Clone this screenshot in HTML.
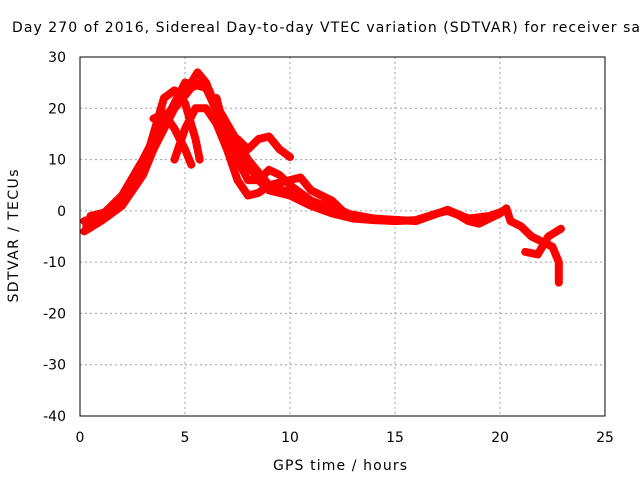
<!DOCTYPE html>
<html><head><meta charset="utf-8"><style>
body{margin:0;background:#fff;width:640px;height:480px;overflow:hidden}
svg text{font-family:"DejaVu Sans","Liberation Sans",sans-serif;font-size:14px;fill:#000}
</style></head><body>
<svg id="chart" width="640" height="480" xmlns="http://www.w3.org/2000/svg">
<text x="12" y="32" textLength="628" lengthAdjust="spacing">Day 270 of 2016, Sidereal Day-to-day VTEC variation (SDTVAR) for receiver sa</text>
<g id="grid"></g>
<g id="ticks"></g>
<g id="series"></g>
<rect x="80" y="57" width="525" height="359" fill="none" stroke="#000" stroke-width="1"/>
<text x="340" y="470" text-anchor="middle" textLength="134">GPS time / hours</text>
<text transform="translate(18,236) rotate(-90)" text-anchor="middle" textLength="133">SDTVAR / TECUs</text>
</svg>
<script>
const xTicks=[0,5,10,15,20,25];
const yTicks=[-40,-30,-20,-10,0,10,20,30];
const s1=[[0.2,-2],[1,-1],[2,3],[3,10],[4,18],[5,23],[5.6,27],[6,25],[6.5,20],[7,15],[7.5,12],[8,9],[8.5,6],[9,4],[10,3],[11,1],[12,-0.5],[13,-1.5],[14,-1.8],[15,-2],[16,-1.8],[17,-0.5],[17.5,0],[18,-0.8],[18.5,-2],[19,-2.5],[19.5,-1.5],[20,-0.5],[20.3,0.5],[20.5,-2],[21,-3],[21.5,-5],[22,-6],[22.5,-7],[22.8,-10],[22.8,-14]];
const s2=[[0.3,-3],[1,-1.5],[2,2],[3,8],[3.5,15],[4,22],[4.5,23.5],[5,21],[5.5,14],[5.7,10]];
const s2b=[[3.5,18],[4,19],[4.5,16],[5,12],[5.3,9]];
const s3=[[4.5,10],[5,16],[5.5,20],[6,20],[6.5,17],[7,12],[7.5,6],[8,3],[8.5,3.5],[9,5],[10,6],[10.5,6.5],[11,4],[12,2],[12.5,0],[13,-1]];
const s4=[[0.2,-4],[1,-2],[2,1],[3,7],[4,17],[5,25],[6,24],[7,15],[7.5,14],[8,12],[8.5,14],[9,14.5],[9.5,12],[10,10.5]];
const s5=[[6.5,22],[7,14],[7.5,10],[8,6],[8.5,6],[9,8],[9.5,7],[10,5],[11,2],[12,0.5],[13,-1]];
const s6=[[21.2,-8],[21.8,-8.5],[22.3,-5],[22.7,-4],[22.9,-3.5]];
const s7=[[0.5,-1],[1.5,0],[2.5,4],[3.5,12],[4.5,20],[5.3,24],[5.8,25],[6.3,22],[7,17],[8,10],[9,5],[10,3.5],[11,2],[12,0],[14,-1.5],[16,-2],[17.5,0.2],[18.5,-1.5],[19.5,-1],[20.2,0]];
const allSeries=[s1,s2,s2b,s3,s4,s5,s6,s7];
const X=v=>80+v*21, Y=v=>57+(30-v)*5.1286;
const NS="http://www.w3.org/2000/svg";
const grid=document.getElementById('grid'),ticks=document.getElementById('ticks'),ser=document.getElementById('series');
function mk(tag,attrs,parent){const e=document.createElementNS(NS,tag);for(const k in attrs)e.setAttribute(k,attrs[k]);parent.appendChild(e);return e;}
xTicks.forEach(t=>{
  if(t>0&&t<25){const l=mk('line',{x1:X(t),x2:X(t),y1:57,y2:416,stroke:'#a0a0a0','stroke-dasharray':'2,3'},grid);
  
  }
  const tx=mk('text',{x:X(t),y:442,'text-anchor':'middle'},ticks);tx.textContent=t;
  
  
});
yTicks.forEach(t=>{
  if(t>-40&&t<30){const l=mk('line',{x1:80,x2:605,y1:Y(t),y2:Y(t),stroke:'#a0a0a0','stroke-dasharray':'2,3'},grid);
  
  }
  const tx=mk('text',{x:66,y:Y(t)+5,'text-anchor':'end'},ticks);tx.textContent=t;
  
  
});
allSeries.forEach(s=>{
  const p=mk('polyline',{points:s.map(d=>X(d[0])+','+Y(d[1])).join(' '),fill:'none',stroke:'#ff0000','stroke-width':8,'stroke-linejoin':'round','stroke-linecap':'round'},ser);
  
  
});
</script>
</body></html>
